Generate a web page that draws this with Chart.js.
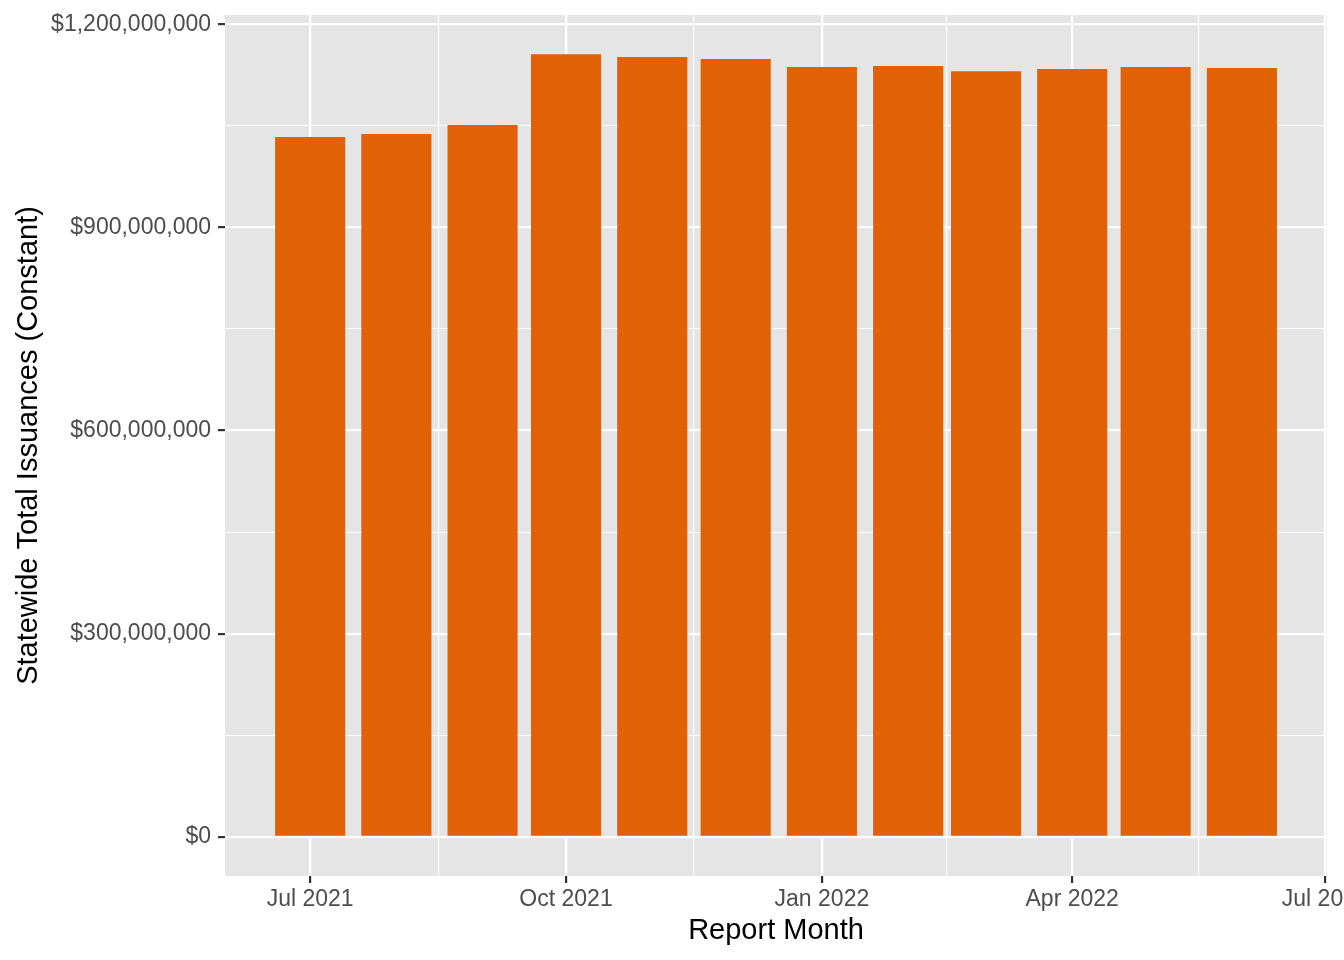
<!doctype html>
<html lang="en">
  <head>
    <meta charset="UTF-8" />
    <title>Statewide Total Issuances</title>
    <script src="https://cdn.jsdelivr.net/npm/chart.js@4"></script>
    <style>
      body {
        margin: 0;
        background: #ffffff;
        overflow: hidden;
      }
      canvas {
        display: block;
      }
    </style>
  </head>
  <body>
    <canvas id="issuanceChart" width="1344" height="960"></canvas>

    <script>
      // Monthly statewide issuances
      const reportMonths = [
        "2021-07-01", "2021-08-01", "2021-09-01", "2021-10-01", "2021-11-01", "2021-12-01",
        "2022-01-01", "2022-02-01", "2022-03-01", "2022-04-01", "2022-05-01", "2022-06-01"
      ];
      const issuances = [
        1033.4e6, 1037.8e6, 1051.1e6, 1155.9e6, 1151.5e6, 1148.6e6,
        1136.8e6, 1138.2e6, 1130.8e6, 1133.8e6, 1136.8e6, 1135.3e6
      ];

      // Axis breaks
      const xBreakDates = ["2021-07-01", "2021-10-01", "2022-01-01", "2022-04-01", "2022-07-01"];
      const xBreakLabels = ["Jul 2021", "Oct 2021", "Jan 2022", "Apr 2022", "Jul 2022"];
      const yBreaks = [0, 300e6, 600e6, 900e6, 1200e6];

      const FONT = "'Liberation Sans', Arial, Helvetica, sans-serif";
      const PANEL = "#E5E5E5";
      const BAR = "#E16106";

      // dates as day numbers so a linear scale can place them
      function toDay(s) {
        const [y, m, d] = s.split("-").map(Number);
        return Date.UTC(y, m - 1, d) / 864e5;
      }

      const monthDays = reportMonths.map(toDay);
      const xMajors = xBreakDates.map(toDay);

      // ggplot-like limits: bar half width (0.9 * 28 days / 2) plus 5% expansion
      const halfBar = 0.45 * 28;
      const xLo = monthDays[0] - halfBar;
      const xHi = monthDays[monthDays.length - 1] + halfBar;
      const xPad = 0.05 * (xHi - xLo);
      const yTop = Math.max(...issuances);

      // major + minor (midpoint) ticks
      function withMinors(majors, labels) {
        const out = [];
        majors.forEach((v, i) => {
          out.push({ value: v, text: labels[i], minor: false });
          if (i < majors.length - 1) {
            out.push({ value: (v + majors[i + 1]) / 2, text: "", minor: true });
          }
        });
        return out;
      }

      const yLabels = yBreaks.map(v => "$" + v.toLocaleString("en-US"));

      const isMinor = ctx => ctx.tick && ctx.tick.minor;

      const panelBackground = {
        id: "panelBackground",
        beforeDraw(chart) {
          const { ctx, chartArea } = chart;
          ctx.save();
          ctx.fillStyle = PANEL;
          ctx.fillRect(chartArea.left, chartArea.top, chartArea.right - chartArea.left, chartArea.bottom - chartArea.top);
          ctx.restore();
        }
      };

      const gridOpts = {
        color: "#FFFFFF",
        offset: false,
        lineWidth: ctx => (isMinor(ctx) ? 1.1 : 2.2),
        drawTicks: true,
        tickLength: 7,
        tickWidth: 2.2,
        tickColor: ctx => (isMinor(ctx) ? "rgba(0,0,0,0)" : "#333333")
      };

      const ctx = document.getElementById("issuanceChart").getContext("2d");
      const issuanceChart = new Chart(ctx, {
        type: "bar",
        data: {
          datasets: [
            {
              label: "Statewide Total Issuances (Constant)",
              data: monthDays.map((d, i) => ({ x: d, y: issuances[i] })),
              backgroundColor: BAR,
              borderWidth: 0,
              barPercentage: 0.9,
              categoryPercentage: 1
            }
          ]
        },
        options: {
          responsive: false,
          animation: false,
          layout: { padding: { top: 15, right: 17, bottom: 0, left: 0 } },
          plugins: {
            legend: { display: false },
            tooltip: { enabled: false }
          },
          scales: {
            x: {
              type: "linear",
              bounds: "data",
              offset: false,
              min: xLo - xPad,
              max: xHi + xPad,
              border: { display: false },
              grid: gridOpts,
              ticks: {
                autoSkip: false,
                maxRotation: 0,
                padding: 3,
                color: "#4D4D4D",
                font: { family: FONT, size: 23 },
                callback: (v, i, ticks) => ticks[i].text
              },
              afterBuildTicks: scale => {
                scale.ticks = withMinors(xMajors, xBreakLabels);
              },
              afterFit: scale => {
                scale.height = 84;
                scale.paddingLeft = 0;
                scale.paddingRight = 0;
              },
              title: {
                display: true,
                text: "Report Month",
                color: "#000000",
                font: { family: FONT, size: 29 },
                padding: { top: 0, bottom: 12 }
              }
            },
            y: {
              type: "linear",
              bounds: "data",
              min: -0.05 * yTop,
              max: 1.05 * yTop,
              border: { display: false },
              grid: gridOpts,
              ticks: {
                padding: 7,
                color: "#4D4D4D",
                font: { family: FONT, size: 23 },
                callback: (v, i, ticks) => ticks[i].text
              },
              afterBuildTicks: scale => {
                scale.ticks = withMinors(yBreaks, yLabels);
              },
              afterFit: scale => {
                scale.width = 225;
                scale.paddingTop = 0;
                scale.paddingBottom = 0;
              },
              title: {
                display: true,
                text: "Statewide Total Issuances (Constant)",
                color: "#000000",
                font: { family: FONT, size: 29 },
                padding: { top: 12, bottom: 0 }
              }
            }
          }
        },
        plugins: [panelBackground]
      });
    </script>
  </body>
</html>
